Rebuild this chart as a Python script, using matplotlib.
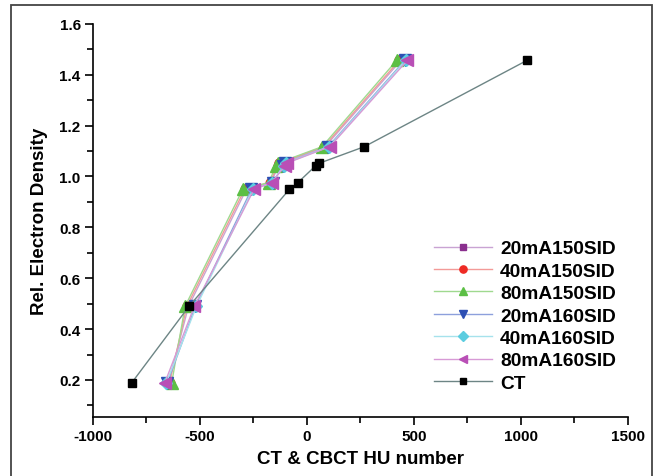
import numpy as np
import matplotlib
matplotlib.use('Agg')
import matplotlib.pyplot as plt
from matplotlib.patches import Rectangle
from matplotlib.ticker import MultipleLocator, FormatStrFormatter

# relative electron density of the phantom inserts
red = [0.19, 0.489, 0.949, 0.976, 1.043, 1.052, 1.117, 1.456]

# HU numbers
hu_20mA150 = [-645, -552, -282, -168, -130, -122, 86, 440]
hu_40mA150 = [-640, -560, -290, -172, -135, -128, 80, 432]
hu_80mA150 = [-630, -568, -299, -178, -142, -136, 72, 420]
hu_20mA160 = [-650, -520, -258, -158, -110, -103, 100, 458]
hu_40mA160 = [-655, -515, -252, -162, -106, -99, 104, 462]
hu_80mA160 = [-662, -525, -246, -164, -100, -94, 108, 470]
hu_ct = [-816, -550, -81, -41, 43, 59, 269, 1028]

labels = ['20mA150SID', '40mA150SID', '80mA150SID',
          '20mA160SID', '40mA160SID', '80mA160SID', 'CT']

plt.rcParams['font.family'] = ['Liberation Sans', 'DejaVu Sans']
plt.rcParams['font.weight'] = 'bold'
plt.rcParams['axes.unicode_minus'] = False

fig = plt.figure(figsize=(6.61, 4.77), dpi=100)
ax = fig.add_axes([0.140, 0.124, 0.810, 0.824])

# outer frame around the figure
fig.patches.append(Rectangle((11 / 661, -0.05), 641 / 661, 1.05 - 6 / 477,
                             transform=fig.transFigure, fill=False,
                             edgecolor='#444444', linewidth=1.3))

series = [
    (hu_20mA150, 's', '#8a2f8e', '#c9a3d3', 5.5),
    (hu_40mA150, 'o', '#ee2a24', '#f39a98', 6.5),
    (hu_80mA150, '^', '#5cbf45', '#9fd98f', 8),
    (hu_20mA160, 'v', '#2d4fb4', '#8da0dc', 8),
    (hu_40mA160, 'D', '#5ccde0', '#a6e2ec', 6),
    (hu_80mA160, '<', '#b94fb6', '#d79ad6', 8),
    (hu_ct, 's', '#000000', '#6d8585', 5.5),
]

for (hu, mk, col, lcol, ms), lab in zip(series, labels):
    ax.plot(hu, red, color=lcol, linewidth=1.0, marker=mk, markersize=ms,
            markerfacecolor=col, markeredgecolor=col, label=lab)

ax.set_xlim(-1000, 1500)
ax.set_ylim(0.055, 1.6)
ax.xaxis.set_major_locator(MultipleLocator(500))
ax.xaxis.set_minor_locator(MultipleLocator(250))
ax.yaxis.set_major_locator(MultipleLocator(0.2))
ax.yaxis.set_minor_locator(MultipleLocator(0.1))
ax.yaxis.set_major_formatter(FormatStrFormatter('%.1f'))

ax.spines['top'].set_visible(False)
ax.spines['right'].set_visible(False)
for s in ['left', 'bottom']:
    ax.spines[s].set_linewidth(1.2)
ax.tick_params(which='major', direction='out', length=6, width=1.2,
               labelsize=11, pad=2.5)
ax.tick_params(which='minor', direction='out', length=4, width=1.2)

ax.set_xlabel('CT & CBCT HU number', fontsize=13.5, fontweight='bold',
              labelpad=5)
ax.set_ylabel('Rel. Electron Density', fontsize=13.5, fontweight='bold',
              labelpad=8)

leg = ax.legend(loc='lower right', bbox_to_anchor=(1.01, 0.02), frameon=False,
                prop={'size': 13.8, 'weight': 'bold'}, handlelength=3.0,
                labelspacing=0.26, handletextpad=0.45, markerscale=0.8)

fig.savefig('out.png', dpi=100)
